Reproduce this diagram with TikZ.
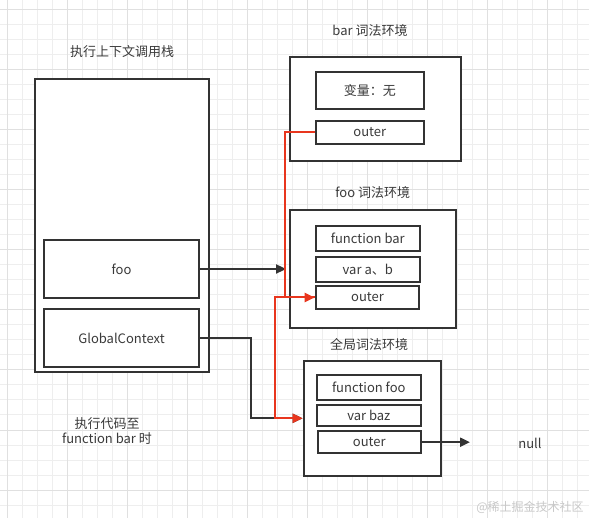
\documentclass[tikz,border=0pt]{standalone}
\usepackage{fontspec}
\setmainfont{Noto Sans CJK SC}
\usepackage{xcolor}
\usetikzlibrary{arrows.meta}
\definecolor{linegray}{HTML}{333333}
\definecolor{textgray}{HTML}{3A3A3A}
\definecolor{edgered}{HTML}{E8361E}
\definecolor{gridminor}{HTML}{EEEEEE}
\definecolor{gridmajor}{HTML}{E0E0E0}
\definecolor{markgray}{HTML}{C8C8C8}
\tikzset{
	envbox/.style={draw=linegray, line width=2pt, fill=white, inner sep=0pt},
	slotbox/.style={envbox, text=textgray, font=\fontsize{13}{15}\selectfont},
	titletext/.style={text=textgray, font=\fontsize{13}{15}\selectfont, align=center, inner sep=0pt},
	blackedge/.style={draw=linegray, line width=2pt, -{Triangle[length=10pt,width=9pt]}},
	rededge/.style={draw=edgered, line width=2pt, -{Triangle[length=10pt,width=9pt]}},
}

\begin{document}
\begin{tikzpicture}[x=1pt, y=-1pt]
	\useasboundingbox (0,0) rectangle (589,518);
	\fill[white] (0,0) rectangle (589,518);
	\foreach \gx in {0,...,39} {
		\draw[gridminor, line width=1pt] (7.5+15*\gx,0) -- (7.5+15*\gx,518);
	}
	\foreach \gy in {0,...,34} {
		\draw[gridminor, line width=1pt] (0,10+15*\gy) -- (589,10+15*\gy);
	}
	\foreach \gx in {0,...,9} {
		\draw[gridmajor, line width=1pt] (7.5+60*\gx,0) -- (7.5+60*\gx,518);
	}
	\foreach \gy in {0,...,8} {
		\draw[gridmajor, line width=1pt] (0,10+60*\gy) -- (589,10+60*\gy);
	}

	\node[titletext] (stacktitle) at (122,52) {执行上下文调用栈};
	\node[envbox, minimum width=174pt, minimum height=293pt] (stack) at (122,225.5) {};
	\node[slotbox, minimum width=155.5pt, minimum height=57.5pt] (fooctx) at (121.5,269) {foo};
	\node[slotbox, minimum width=155.5pt, minimum height=58pt] (globalctx) at (121.5,338) {GlobalContext};
	\node[titletext] (note) at (107,431) {执行代码至\\function bar 时};

	\node[titletext] (bartitle) at (370,30.7) {bar 词法环境};
	\node[envbox, minimum width=170.7pt, minimum height=104pt] (barenv) at (375.3,108.7) {};
	\node[slotbox, minimum width=108.3pt, minimum height=37.6pt] (barvars) at (369.8,90.5) {变量：无};
	\node[slotbox, minimum width=108.3pt, minimum height=23.3pt] (barouter) at (369.8,132.3) {outer};

	\node[titletext] (footitle) at (372.7,193) {foo 词法环境};
	\node[envbox, minimum width=166.3pt, minimum height=117.7pt] (fooenv) at (373.2,268.8) {};
	\node[slotbox, minimum width=104.3pt, minimum height=24.7pt] (foofn) at (367.8,238.3) {function bar};
	\node[slotbox, minimum width=104.3pt, minimum height=24.7pt] (foovars) at (367.8,269.3) {var a、b};
	\node[slotbox, minimum width=103.6pt, minimum height=23pt] (fooouter) at (367.5,297.5) {outer};

	\node[titletext] (globaltitle) at (369,345) {全局词法环境};
	\node[envbox, minimum width=137.3pt, minimum height=114.7pt] (globalenv) at (372.3,418.3) {};
	\node[slotbox, minimum width=104.3pt, minimum height=25pt] (globalfn) at (368.8,387.5) {function foo};
	\node[slotbox, minimum width=104.3pt, minimum height=21pt] (globalvars) at (368.8,415.5) {var baz};
	\node[slotbox, minimum width=103.3pt, minimum height=22.3pt] (globalouter) at (369.3,442.2) {outer};

	\node[titletext] (null) at (530,443) {null};
	\coordinate (nulltip) at (470,442.2);
	\node[text=markgray, font=\fontsize{12}{14}\selectfont, inner sep=0pt] (mark) at (530,507) {@稀土掘金技术社区};

	\draw[blackedge, shorten >=3pt] (fooctx.east) -- (fooctx.east -| fooenv.west);
	\draw[blackedge] (globalctx.east) -- ++(51,0) |- (globalenv.west);
	\draw[blackedge] (globalouter.east) -- (nulltip);
	\draw[rededge] (barouter.west) -- ++(-30,0) |- (fooouter.west);
	\draw[rededge] (fooouter.west) -- ++(-40,0) |- (globalenv.west);
\end{tikzpicture}
\end{document}
